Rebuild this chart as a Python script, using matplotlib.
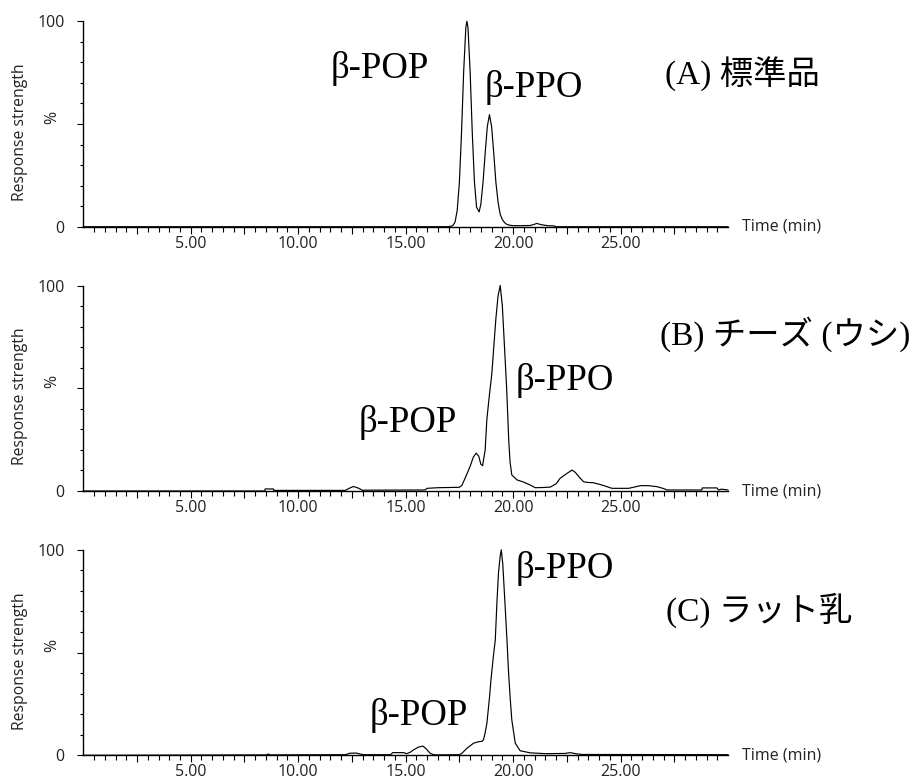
import matplotlib
matplotlib.use("Agg")
import matplotlib.pyplot as plt
from matplotlib.ticker import FixedLocator, FuncFormatter

# ---- chromatogram traces (retention time in min, relative response in %) ----
time_a = [0.0, 16.9, 17.1, 17.2, 17.3, 17.4, 17.5, 17.6, 17.7, 17.8, 17.85, 17.9,
          18.0, 18.1, 18.2, 18.3, 18.42, 18.5, 18.6, 18.7, 18.8, 18.9, 19.0, 19.1,
          19.2, 19.3, 19.4, 19.5, 19.6, 19.7, 19.8, 20.0, 20.4, 20.8, 21.0, 21.1,
          21.3, 21.6, 21.9, 22.0, 30.0]
resp_a = [0, 0, 0.2, 0.6, 2.3, 8, 21.6, 45.8, 75.5, 96.9, 100, 96.9,
          75.5, 45.8, 22, 9.5, 7.2, 11, 21.5, 35.7, 48.7, 54.5, 48.7, 35.7,
          21.5, 12, 6, 3.5, 2.0, 1.2, 0.8, 0.5, 0.5, 0.6, 1.2, 1.6,
          1.0, 0.5, 0.4, 0, 0]

time_b = [0.0, 8.45, 8.46, 8.85, 8.86, 12.2, 12.35, 12.57, 12.8, 13.0, 13.1, 15.9,
          16.0, 16.5, 17.5, 17.62, 17.8, 18.0, 18.15, 18.28, 18.4, 18.5, 18.58, 18.7,
          18.78, 18.9, 19.01, 19.1, 19.2, 19.3, 19.4, 19.5, 19.6, 19.7, 19.8, 19.86,
          19.94, 20.18, 20.5, 20.8, 21.03, 21.4, 21.73, 22.0, 22.19, 22.5, 22.74, 22.9,
          23.1, 23.28, 23.44, 23.74, 24.0, 24.2, 24.6, 25.37, 25.6, 25.92, 26.3, 26.7,
          27.0, 27.16, 28.79, 28.8, 29.49, 29.55, 29.7, 30.0]
resp_b = [0, 0, 1.0, 1.0, 0.3, 0.3, 1.2, 2.2, 1.4, 0.3, 0.4, 0.5,
          1.3, 1.6, 1.8, 2.8, 7, 12, 16.5, 18.4, 17, 13, 12.3, 20,
          35, 47, 57, 70, 84, 95, 100, 90, 70, 50, 24, 14,
          7.8, 5.4, 4.3, 2.9, 1.6, 1.7, 1.9, 3.5, 6.2, 8.5, 10.2, 9,
          6.5, 4.5, 4.2, 4.0, 3.3, 2.7, 1.3, 1.3, 1.8, 2.6, 2.6, 2.1,
          1.2, 0.5, 0.5, 1.5, 1.5, 0.5, 0.9, 0.5]

time_c = [0.0, 8.5, 8.6, 8.7, 12.2, 12.4, 12.7, 12.9, 13.0, 14.3, 14.4, 14.9,
          15.05, 15.2, 15.36, 15.6, 15.8, 15.95, 16.14, 16.3, 16.45, 17.5, 17.62, 17.85,
          18.0, 18.16, 18.39, 18.55, 18.62, 18.7, 18.78, 18.9, 18.97, 19.08, 19.17, 19.25,
          19.32, 19.4, 19.45, 19.52, 19.63, 19.72, 19.79, 19.87, 19.94, 20.1, 20.33, 20.8,
          21.5, 22.4, 22.66, 22.9, 23.2, 30.0]
resp_c = [0, 0.2, 0.6, 0.2, 0.3, 1.0, 1.1, 0.6, 0.3, 0.3, 1.3, 1.3,
          0.8, 1.4, 2.6, 4.0, 4.5, 3.2, 1.0, 0.3, 0.2, 0.3, 1.0, 3.4,
          4.6, 5.9, 6.6, 6.8, 7.5, 11, 15.6, 28, 36.7, 48, 56, 75,
          88.8, 97, 100, 93, 72.5, 55, 40, 27, 17.2, 5.9, 2.2, 1.2,
          0.8, 0.9, 1.3, 0.8, 0.4, 0.3]

panel_titles = ["(A) 標準品", "(B) チーズ (ウシ)", "(C) ラット乳"]
peak_names = ["β-POP", "β-PPO"]
x_tick_labels = ["5.00", "10.00", "15.00", "20.00", "25.00"]
y_tick_labels = ["0", "100"]

# annotation placement per panel: (time, response) of each label
pop_pos = [(13.8, 72.3), (15.1, 28.9), (15.6, 14.8)]
ppo_pos = [(20.95, 63.2), (22.4, 49.3), (22.4, 86.3)]
title_pos = [(30.67, 74.2), (32.67, 76.1), (31.43, 70.5)]

traces = [(time_a, resp_a), (time_b, resp_b), (time_c, resp_c)]

ui_font = "Open Sans"
serif_cjk = ["Liberation Serif", "Noto Sans CJK JP"]

fig = plt.figure(figsize=(9.2, 7.83), dpi=100)
W, H = 920.0, 783.0
left_px, right_px = 83.3, 728.0
zero_px = [226.7, 491.0, 755.3]
height_px = 205.5

for i, (t, r) in enumerate(traces):
    bottom = (H - zero_px[i]) / H
    ax = fig.add_axes([left_px / W, bottom, (right_px - left_px) / W, height_px / H])
    ax.plot(t, r, color="black", lw=0.85, clip_on=False, zorder=3)
    ax.set_xlim(0, 30)
    ax.set_ylim(0, 100)
    for s in ("top", "right"):
        ax.spines[s].set_visible(False)
    for s in ("left", "bottom"):
        ax.spines[s].set_linewidth(1.0)
        ax.spines[s].set_color("black")

    major_x = [2.5 * k for k in range(1, 12)]
    minor_x = [0.5 * k for k in range(1, 60) if (0.5 * k) % 2.5 != 0]
    ax.xaxis.set_major_locator(FixedLocator(major_x))
    ax.xaxis.set_minor_locator(FixedLocator(minor_x))
    labels_x = dict(zip([5.0, 10.0, 15.0, 20.0, 25.0], x_tick_labels))
    ax.xaxis.set_major_formatter(FuncFormatter(lambda v, p, d=labels_x: d.get(round(v, 2), "")))

    ax.yaxis.set_major_locator(FixedLocator([0, 50, 100]))
    ax.yaxis.set_minor_locator(FixedLocator([10, 20, 30, 40, 60, 70, 80, 90]))
    labels_y = {0: y_tick_labels[0], 100: y_tick_labels[1]}
    ax.yaxis.set_major_formatter(FuncFormatter(lambda v, p, d=labels_y: d.get(int(round(v)), "")))

    ax.tick_params(axis="x", which="major", direction="out", length=5, width=0.8,
                   pad=1.5, labelsize=11.5)
    ax.tick_params(axis="x", which="minor", direction="out", length=3.3, width=0.8)
    ax.tick_params(axis="y", which="major", direction="out", length=4.3, width=0.8,
                   pad=9, labelsize=11.5)
    ax.tick_params(axis="y", which="minor", direction="out", length=2.4, width=0.8)
    for lab in ax.get_xticklabels() + ax.get_yticklabels():
        lab.set_fontfamily(ui_font)
        lab.set_color("#222222")

    ax.text(-0.098, 0.46, "Response strength", transform=ax.transAxes, rotation=90,
            ha="center", va="center", fontsize=11.3, family=ui_font, color="#222222")
    ax.text(-0.0486, 0.533, "%", transform=ax.transAxes, rotation=90,
            ha="center", va="center", fontsize=11.5, family=ui_font, color="#222222")
    ax.text(1.021, 0.0, "Time (min)", transform=ax.transAxes, ha="left", va="center",
            fontsize=11.5, family=ui_font, color="#222222")

    ax.text(*pop_pos[i], peak_names[0], ha="center", va="baseline", fontsize=26.5,
            family=serif_cjk, color="black", clip_on=False)
    ax.text(*ppo_pos[i], peak_names[1], ha="center", va="baseline", fontsize=26.5,
            family=serif_cjk, color="black", clip_on=False)
    ax.text(*title_pos[i], panel_titles[i], ha="center", va="center", fontsize=24,
            family=serif_cjk, color="black", clip_on=False)

fig.savefig("out.png", dpi=100)
